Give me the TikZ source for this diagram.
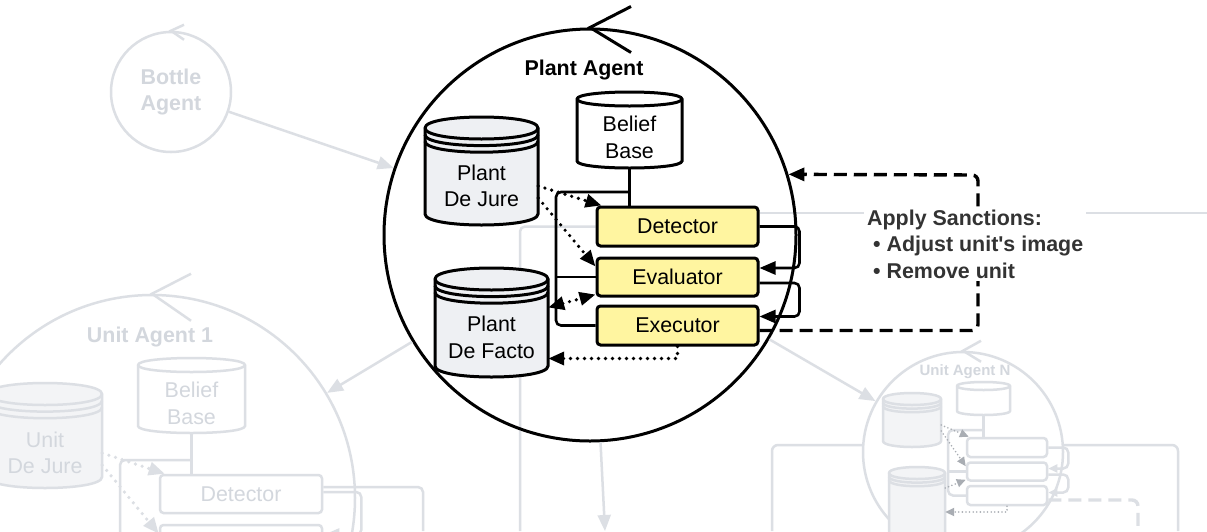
\documentclass[tikz,border=0pt]{standalone}
\usepackage{fontspec}
\newfontfamily\arial{Liberation Sans}
\usetikzlibrary{arrows.meta,backgrounds}

\definecolor{fade}{HTML}{DCDFE4}
\definecolor{fadetext}{HTML}{D3D7DD}
\definecolor{fadefill}{HTML}{F3F4F6}
\definecolor{dotgrey}{HTML}{A9ADB3}
\definecolor{jargrey}{HTML}{EEF0F3}
\definecolor{boxyellow}{HTML}{FFF5A0}
\definecolor{note}{HTML}{333333}

\newcommand\txt{\arial\fontsize{21.4}{26.5}\selectfont}

% cylinder: options, centre x, top y, width, height, lid half height, rings
\newcommand\drum[7]{%
  \draw[#1] ({#2-#4/2},{#3+#6}) -- ({#2-#4/2},{#3+#5-#6})
    .. controls +(0,{4*#6/3}) and +(0,{4*#6/3}) .. ({#2+#4/2},{#3+#5-#6})
    -- ({#2+#4/2},{#3+#6})
    .. controls +(0,{-4*#6/3}) and +(0,{-4*#6/3}) .. ({#2-#4/2},{#3+#6}) -- cycle;
  \draw[#1,fill=none] ({#2-#4/2},{#3+#6}) .. controls +(0,{4*#6/3}) and +(0,{4*#6/3}) .. ({#2+#4/2},{#3+#6});
  \ifnum#7>0
    \draw[#1,fill=none] ({#2-#4/2},{#3+1.6*#6}) .. controls +(0,{4*#6/3}) and +(0,{4*#6/3}) .. ({#2+#4/2},{#3+1.6*#6});
    \draw[#1,fill=none] ({#2-#4/2},{#3+2.2*#6}) .. controls +(0,{4*#6/3}) and +(0,{4*#6/3}) .. ({#2+#4/2},{#3+2.2*#6});
  \fi}

\begin{document}
\begin{tikzpicture}[x=1pt,y=-1pt,>={Triangle[length=16pt,width=13pt]},font=\txt,
    agent/.style={circle,draw,line width=3pt,inner sep=0pt},
    ghostagent/.style={agent,draw=fade,line width=2.5pt,fill=white},
    task/.style={rectangle,rounded corners=3.5pt,draw,line width=3pt,fill=boxyellow,inner sep=0pt,minimum width=161pt},
    ghosttask/.style={task,draw=fade,line width=2.5pt,fill=white,text=fadetext},
    lbl/.style={align=center,inner sep=0pt},
    jar/.style={draw,line width=3pt,fill=jargrey},
    ghostjar/.style={draw=fade,line width=2.5pt,fill=fadefill},
    wire/.style={line width=2.6pt,rounded corners=5pt},
    ghost/.style={draw=fade,line width=2.5pt},
    dots/.style={line width=3.6pt,line cap=round,dash pattern=on 0pt off 7pt},
    tinydots/.style={line width=1.8pt,line cap=round,dash pattern=on 0pt off 3.6pt,draw=dotgrey,>={Triangle[length=9pt,width=8pt]}},
    sanction/.style={line width=3.4pt,dash pattern=on 13pt off 7pt,rounded corners=6pt}]

\useasboundingbox (0,0) rectangle (1207,531);
\begin{scope}[on background layer]
  \fill[white] (0,0) rectangle (1207,531);
\end{scope}

% box round Unit Agent N, behind its circle
\coordinate (boxNl) at (772,531);
\coordinate (boxNtop) at (970,445);
\coordinate (boxNr) at (1178,531);
\draw[ghost,rounded corners=6pt] (boxNl) |- (boxNtop) -| (boxNr);

% agents
\node[ghostagent,minimum size=120pt,align=center,font=\txt\bfseries,text=fadetext] (bottle) at (171,92) {Bottle\\Agent};
\node[ghostagent,minimum size=406pt] (unit1) at (152,498) {};
\node[ghostagent,minimum size=200pt] (unitN) at (963,452) {};
\node[agent,minimum size=412pt] (plant) at (590,235) {};

\draw[ghost] (bottle.north) ++(13,-6) -- (bottle.north) -- ++(13,9);
\draw[ghost] (unit1.north) ++(39,-20) -- (unit1.north) -- ++(39,27);
\draw[ghost] (unitN.north) ++(18,-10) -- (unitN.north) -- ++(18,11);
\draw[line width=3pt] (plant.north) ++(41,-21) -- (plant.north) -- ++(41,25);

\coordinate (below) at (605,531);
\draw[ghost,->] (bottle) -- (plant);
\draw[ghost,->] (plant) -- (unit1);
\draw[ghost,->] (plant) -- (unitN);
\draw[ghost,->] (plant) -- (below);

% Plant Agent
\node[font=\txt\bfseries] (ptitle) at (584,70) {Plant Agent};
\drum{jar,fill=white}{629.5}{92}{105}{76}{7}{0}
\node[lbl,minimum width=105pt,minimum height=61pt] (bb) at (629.5,137.5) {Belief\\Base};
\drum{jar}{481.5}{117}{113}{108}{11}{1}
\node[lbl,minimum width=113pt] (jure) at (481.5,186) {Plant\\De Jure};
\drum{jar}{491.5}{268}{113}{109}{11}{1}
\node[lbl,minimum width=113pt] (facto) at (491.5,337.5) {Plant\\De Facto};

\node[task,minimum height=39pt] (det) at (677.5,226.5) {Detector};
\node[task,minimum height=38pt] (eva) at (677.5,277) {Evaluator};
\node[task,minimum height=39pt] (exe) at (677.5,325.5) {Executor};

\begin{scope}[on background layer]
  \coordinate (farright) at (1207,213);
  \coordinate (farbottom) at (520,531);
  \draw[ghost] (farright) -- (farright -| det.east);
  \draw[ghost,rounded corners=5pt] (det.west) -| (farbottom);
\end{scope}

\coordinate (trunk) at (556,192);
\draw[wire] (bb.south) -- (bb.south |- det.north);
\draw[wire] (bb.south |- trunk) -- (trunk) |- (exe.west);
\draw[wire] (trunk |- eva.west) -- (eva.west);

\draw[dots,->] (jure.east) -- ([xshift=6pt]det.north west);
\draw[dots,->] ([yshift=-12pt]jure.east) -- ([yshift=-10pt]eva.north west);
\draw[dots,<->] ([yshift=30pt]facto.east) -- ([yshift=3pt]eva.south west);
\draw[dots,->] (exe.south) |- ([yshift=-21pt]facto.east);

\draw[wire,->] (det.east) -- ++(40,0) |- ([yshift=9pt]eva.east);
\draw[wire,->] ([yshift=-6pt]eva.east) -- ++(40,0) |- ([yshift=9pt]exe.east);

\coordinate (turn) at (978,175);
\draw[sanction,->] ([yshift=-5pt]exe.east) -| (turn) -- (plant.17);
\node[fill=white,inner sep=3pt,align=left,text=note,font=\txt\bfseries,anchor=west] (sanctions) at (864,244)
  {Apply Sanctions:\\\hspace*{6pt}• Adjust unit's image\\\hspace*{6pt}• Remove unit};

% Unit Agent 1
\node[font=\txt\bfseries,text=fadetext] (u1title) at (150,337) {Unit Agent 1};
\drum{ghostjar,fill=white}{191.5}{358}{107}{75}{7}{0}
\node[lbl,text=fadetext,minimum width=107pt,minimum height=61pt] (bb1) at (191.5,403.5) {Belief\\Base};
\drum{ghostjar}{45}{383}{114}{105}{11}{1}
\node[lbl,text=fadetext,minimum width=114pt] (jure1) at (45,453) {Unit\\De Jure};
\node[ghosttask,minimum width=162pt,minimum height=38pt] (det1) at (241,494) {Detector};
\node[ghosttask,minimum width=162pt,minimum height=38pt] (eva1) at (241,544) {};

\coordinate (trunk1) at (120,460);
\coordinate (box1) at (423,531);
\draw[wire,ghost] (bb1.south) -- (bb1.south |- det1.north);
\draw[wire,ghost] (bb1.south |- trunk1) -- (trunk1) |- (eva1.west);
\draw[dots,draw=fade,->] (jure1.east) -- ([xshift=6pt]det1.north west);
\draw[dots,draw=fade,->] ([yshift=-12pt]jure1.east) -- ([yshift=-10pt]eva1.north west);
\draw[wire,ghost] ([yshift=7pt]det1.east) -| (box1);
\draw[wire,ghost,->] ([yshift=2pt]det1.east) -- ++(38,0) |- ([yshift=9pt]eva1.east);

% Unit Agent N
\node[font=\arial\fontsize{15}{18}\selectfont\bfseries,text=fadetext] (uNtitle) at (965,372) {Unit Agent N};
\drum{ghostjar,fill=white}{983.5}{382}{53}{33}{4}{0}
\node[lbl,minimum width=53pt,minimum height=24pt] (bbN) at (983.5,403) {};
\drum{ghostjar}{912}{393}{58}{54}{6}{1}
\node[lbl,minimum width=58pt] (jureN) at (912,425) {};
\drum{ghostjar}{917}{467}{56}{80}{6}{1}
\node[lbl,minimum width=56pt] (factoN) at (917,500) {};
\node[ghosttask,minimum width=80pt,minimum height=19pt] (detN) at (1007,447.5) {};
\node[ghosttask,minimum width=80pt,minimum height=18pt] (evaN) at (1007,471.5) {};
\node[ghosttask,minimum width=80pt,minimum height=19pt] (exeN) at (1007,495.5) {};

\coordinate (trunkN) at (948,430);
\coordinate (downN) at (1138,531);
\draw[wire,ghost] (bbN.south) -- (bbN.south |- detN.north);
\draw[wire,ghost] (bbN.south |- trunkN) -- (trunkN) |- (exeN.west);
\draw[wire,ghost] (trunkN |- evaN.west) -- (evaN.west);
\draw[tinydots,->] (jureN.east) -- ([xshift=3pt]detN.north west);
\draw[tinydots,->] ([yshift=-6pt]jureN.east) -- ([yshift=-5pt]evaN.north west);
\draw[tinydots,->] ([yshift=12pt]factoN.east) -- ([yshift=2pt]evaN.south west);
\draw[tinydots,->] (exeN.south) |- ([yshift=-12pt]factoN.east);
\draw[wire,ghost,->,>={Triangle[length=9pt,width=8pt]}] (detN.east) -- ++(20,0) |- ([yshift=3pt]evaN.east);
\draw[wire,ghost,->,>={Triangle[length=9pt,width=8pt]}] ([yshift=-3pt]evaN.east) -- ++(20,0) |- ([yshift=3pt]exeN.east);
\draw[sanction,draw=fade] ([yshift=-4.5pt]exeN.east) -| (downN);
\end{tikzpicture}
\end{document}
